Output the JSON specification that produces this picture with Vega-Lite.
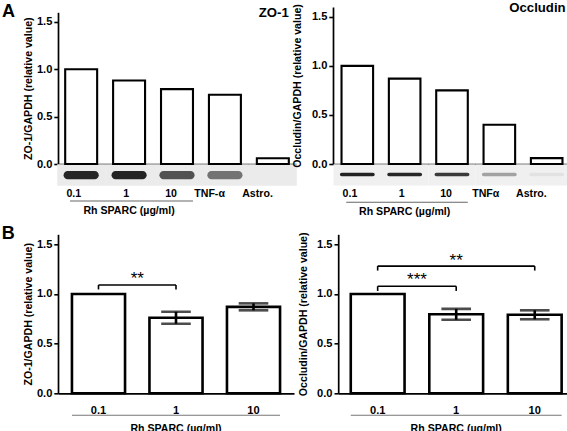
{
  "$schema": "https://vega.github.io/schema/vega-lite/v6.json",
  "background": "white",
  "padding": {"left": 1, "top": 0, "right": 0, "bottom": 0},
  "config": {
    "view": {"stroke": null},
    "font": "Liberation Sans",
    "axis": {
      "labelFont": "Liberation Sans", "labelFontWeight": "bold", "labelFontSize": 11.1, "labelColor": "black",
      "titleFont": "Liberation Sans", "titleFontWeight": "bold", "titleFontSize": 10.6, "titleColor": "black",
      "domainColor": "black", "domainWidth": 1.7, "tickColor": "black", "tickWidth": 1.6, "grid": false
    },
    "text": {"font": "Liberation Sans", "fontWeight": "bold", "color": "black"}
  },
  "datasets": {
    "a_zo1": [
      {"cat": "0.1", "v": 1.0, "blot": 0.9},
      {"cat": "1", "v": 0.88, "blot": 0.92},
      {"cat": "10", "v": 0.79, "blot": 0.7},
      {"cat": "TNF-α", "v": 0.73, "blot": 0.55},
      {"cat": "Astro.", "v": 0.06, "blot": 0.0}
    ],
    "a_occ": [
      {"cat": "0.1", "v": 1.0, "blot": 0.92},
      {"cat": "1", "v": 0.87, "blot": 0.9},
      {"cat": "10", "v": 0.75, "blot": 0.82},
      {"cat": "TNFα", "v": 0.40, "blot": 0.35},
      {"cat": "Astro.", "v": 0.06, "blot": 0.06}
    ],
    "b_zo1": [
      {"cat": "0.1", "v": 1.0},
      {"cat": "1", "v": 0.76, "lo": 0.70, "hi": 0.82},
      {"cat": "10", "v": 0.87, "lo": 0.835, "hi": 0.905}
    ],
    "b_occ": [
      {"cat": "0.1", "v": 1.0},
      {"cat": "1", "v": 0.795, "lo": 0.74, "hi": 0.85},
      {"cat": "10", "v": 0.79, "lo": 0.745, "hi": 0.835}
    ],
    "rh": [
      {"from": "0.1", "to": "10", "mid": "1", "label": "Rh SPARC (µg/ml)"}
    ],
    "name_zo1": [{"cat": "Astro.", "name": "ZO-1"}],
    "name_occ": [{"cat": "Astro.", "name": "Occludin"}],
    "letter_a": [{"cat": "0.1", "name": "A"}],
    "letter_b": [{"cat": "0.1", "name": "B"}],
    "sig_zo1": [
      {"from": "0.1", "to": "1", "at": "1", "pos": "gap", "y": 1.09, "tip": 1.045, "ty": 1.1, "label": "**"}
    ],
    "sig_occ": [
      {"from": "0.1", "to": "1", "at": "1", "pos": "gap", "y": 1.077, "tip": 1.03, "ty": 1.085, "label": "***"},
      {"from": "0.1", "to": "10", "at": "1", "pos": "band", "y": 1.28, "tip": 1.235, "ty": 1.285, "label": "**"}
    ]
  },
  "spacing": 6.3,
  "vconcat": [
    {
      "spacing": -5,
      "hconcat": [
        {
          "width": 238, "height": 157,
          "layer": [
            {
              "data": {"name": "a_zo1"},
              "mark": {"type": "bar", "color": "#ebebeb", "width": {"band": 1.5}},
              "encoding": {
                "x": {"field": "cat", "type": "nominal", "title": null},
                "y": {"datum": -0.003},
                "y2": {"datum": -0.23}
              }
            },
            {
              "data": {"name": "a_zo1"},
              "mark": {"type": "bar", "fill": "white", "stroke": "black", "strokeWidth": 2.1},
              "encoding": {
                "x": {"field": "cat", "type": "nominal",
                  "scale": {"domain": ["0.1", "1", "10", "TNF-α", "Astro."], "paddingInner": 0.333, "paddingOuter": 0.15},
                  "axis": {"title": null, "labelAngle": 0, "ticks": false, "tickSize": 0, "labelPadding": 29.6, "labelFontSize": 10.6}},
                "y": {"field": "v", "type": "quantitative",
                  "scale": {"domain": [0, 1.5], "range": [157, 5.3]},
                  "axis": {"values": [0, 0.5, 1, 1.5], "format": ".1f", "title": "ZO-1/GAPDH (relative value)", "tickSize": 4.2, "titlePadding": 3.2}}
              }
            },
            {
              "data": {"name": "a_zo1"},
              "mark": {"type": "bar", "fill": "#111111", "cornerRadius": 4.2, "width": {"band": 1.1}},
              "encoding": {
                "x": {"field": "cat", "type": "nominal", "title": null},
                "y": {"datum": -0.075},
                "y2": {"datum": -0.16},
                "opacity": {"field": "blot", "type": "quantitative", "scale": null}
              }
            },
            {
              "data": {"name": "rh"},
              "mark": {"type": "rule", "color": "#666666", "strokeWidth": 1.05},
              "encoding": {
                "x": {"field": "from", "type": "nominal", "bandPosition": 0.15, "title": null},
                "x2": {"field": "to", "bandPosition": 1},
                "y": {"datum": -0.39}
              }
            },
            {
              "data": {"name": "rh"},
              "mark": {"type": "text", "fontSize": 10.6, "baseline": "middle"},
              "encoding": {
                "x": {"field": "mid", "type": "nominal", "title": null},
                "y": {"datum": -0.5},
                "text": {"field": "label"}
              }
            },
            {
              "data": {"name": "name_zo1"},
              "mark": {"type": "text", "fontSize": 13.2, "align": "right", "baseline": "alphabetic"},
              "encoding": {
                "x": {"field": "cat", "type": "nominal", "bandPosition": 1, "title": null},
                "y": {"datum": 1.55},
                "text": {"field": "name"}
              }
            },
            {
              "data": {"name": "letter_a"},
              "mark": {"type": "text", "fontSize": 18, "align": "left", "baseline": "alphabetic"},
              "encoding": {
                "x": {"field": "cat", "type": "nominal", "bandPosition": -1.98, "title": null},
                "y": {"datum": 1.553},
                "text": {"field": "name"}
              }
            }
          ]
        },
        {
          "width": 238, "height": 157,
          "layer": [
            {
              "data": {"name": "a_occ"},
              "mark": {"type": "bar", "color": "#f0f0f0", "width": {"band": 1.5}},
              "encoding": {
                "x": {"field": "cat", "type": "nominal", "title": null},
                "y": {"datum": -0.003},
                "y2": {"datum": -0.22}
              }
            },
            {
              "data": {"name": "a_occ"},
              "mark": {"type": "bar", "fill": "white", "stroke": "black", "strokeWidth": 2.1},
              "encoding": {
                "x": {"field": "cat", "type": "nominal",
                  "scale": {"domain": ["0.1", "1", "10", "TNFα", "Astro."], "paddingInner": 0.333, "paddingOuter": 0.18},
                  "axis": {"title": null, "labelAngle": 0, "ticks": false, "tickSize": 0, "labelPadding": 29.6, "labelFontSize": 10.6}},
                "y": {"field": "v", "type": "quantitative",
                  "scale": {"domain": [0, 1.5]},
                  "axis": {"values": [0, 0.5, 1, 1.5], "format": ".1f", "title": "Occludin/GAPDH (relative value)", "tickSize": 4.2, "titlePadding": 8.5}}
              }
            },
            {
              "data": {"name": "a_occ"},
              "mark": {"type": "bar", "fill": "#111111", "cornerRadius": 2.1, "width": {"band": 1.1}},
              "encoding": {
                "x": {"field": "cat", "type": "nominal", "title": null},
                "y": {"datum": -0.09},
                "y2": {"datum": -0.125},
                "opacity": {"field": "blot", "type": "quantitative", "scale": null}
              }
            },
            {
              "data": {"name": "rh"},
              "mark": {"type": "rule", "color": "#666666", "strokeWidth": 1.05},
              "encoding": {
                "x": {"field": "from", "type": "nominal", "bandPosition": 0.15, "title": null},
                "x2": {"field": "to", "bandPosition": 1},
                "y": {"datum": -0.39}
              }
            },
            {
              "data": {"name": "rh"},
              "mark": {"type": "text", "fontSize": 10.6, "baseline": "middle"},
              "encoding": {
                "x": {"field": "mid", "type": "nominal", "title": null},
                "y": {"datum": -0.49},
                "text": {"field": "label"}
              }
            },
            {
              "data": {"name": "name_occ"},
              "mark": {"type": "text", "fontSize": 13.2, "align": "right", "baseline": "alphabetic"},
              "encoding": {
                "x": {"field": "cat", "type": "nominal", "bandPosition": 1.1, "title": null},
                "y": {"datum": 1.55},
                "text": {"field": "name"}
              }
            }
          ]
        }
      ]
    },
    {
      "spacing": 3.2,
      "hconcat": [
        {
          "width": 236, "height": 159,
          "layer": [
            {
              "data": {"name": "b_zo1"},
              "mark": {"type": "bar", "fill": "white", "stroke": "black", "strokeWidth": 2.6},
              "encoding": {
                "x": {"field": "cat", "type": "nominal",
                  "scale": {"domain": ["0.1", "1", "10"], "paddingInner": 0.315, "paddingOuter": 0.18},
                  "axis": {"title": null, "labelAngle": 0, "ticks": false, "tickSize": 0, "labelPadding": 11.6}},
                "y": {"field": "v", "type": "quantitative", "title": "ZO-1/GAPDH (relative value)",
                  "scale": {"domain": [0, 1.5]},
                  "axis": {"values": [0, 0.5, 1, 1.5], "format": ".1f", "tickSize": 4.2, "titlePadding": 3.2}}
              }
            },
            {
              "data": {"name": "b_zo1"},
              "transform": [{"filter": "datum.lo != null"}],
              "mark": {"type": "errorbar", "color": "black", "thickness": 2.6, "ticks": {"size": 29.6, "thickness": 2.6}},
              "encoding": {
                "x": {"field": "cat", "type": "nominal", "title": null},
                "y": {"field": "lo", "type": "quantitative", "title": "ZO-1/GAPDH (relative value)"},
                "y2": {"field": "hi"}
              }
            },
            {
              "data": {"name": "sig_zo1"},
              "mark": {"type": "rule", "color": "black", "strokeWidth": 1.6},
              "encoding": {
                "x": {"field": "from", "type": "nominal", "title": null},
                "x2": {"field": "to"},
                "y": {"field": "y", "type": "quantitative", "title": "ZO-1/GAPDH (relative value)"}
              }
            },
            {
              "data": {"name": "sig_zo1"},
              "mark": {"type": "rule", "color": "black", "strokeWidth": 1.6},
              "encoding": {
                "x": {"field": "from", "type": "nominal", "title": null},
                "y": {"field": "tip", "type": "quantitative", "title": "ZO-1/GAPDH (relative value)"},
                "y2": {"field": "y"}
              }
            },
            {
              "data": {"name": "sig_zo1"},
              "mark": {"type": "rule", "color": "black", "strokeWidth": 1.6},
              "encoding": {
                "x": {"field": "to", "type": "nominal", "title": null},
                "y": {"field": "tip", "type": "quantitative", "title": "ZO-1/GAPDH (relative value)"},
                "y2": {"field": "y"}
              }
            },
            {
              "data": {"name": "sig_zo1"},
              "mark": {"type": "text", "fontSize": 17, "fontWeight": "normal", "baseline": "alphabetic"},
              "encoding": {
                "x": {"field": "from", "type": "nominal", "bandPosition": 1.23, "title": null},
                "y": {"field": "ty", "type": "quantitative", "title": "ZO-1/GAPDH (relative value)"},
                "text": {"field": "label"}
              }
            },
            {
              "data": {"name": "rh"},
              "mark": {"type": "rule", "color": "#777777", "strokeWidth": 1.05},
              "encoding": {
                "x": {"field": "from", "type": "nominal", "bandPosition": 0, "title": null},
                "x2": {"field": "to", "bandPosition": 1},
                "y": {"datum": -0.22}
              }
            },
            {
              "data": {"name": "rh"},
              "mark": {"type": "text", "fontSize": 10.6, "baseline": "middle"},
              "encoding": {
                "x": {"field": "mid", "type": "nominal", "title": null},
                "y": {"datum": -0.36},
                "text": {"field": "label"}
              }
            },
            {
              "data": {"name": "letter_b"},
              "mark": {"type": "text", "fontSize": 18, "align": "left", "baseline": "alphabetic"},
              "encoding": {
                "x": {"field": "cat", "type": "nominal", "bandPosition": -1.32, "title": null},
                "y": {"datum": 1.55, "title": "ZO-1/GAPDH (relative value)"},
                "text": {"field": "name"}
              }
            }
          ]
        },
        {
          "width": 236, "height": 159,
          "layer": [
            {
              "data": {"name": "b_occ"},
              "mark": {"type": "bar", "fill": "white", "stroke": "black", "strokeWidth": 2.6},
              "encoding": {
                "x": {"field": "cat", "type": "nominal",
                  "scale": {"domain": ["0.1", "1", "10"], "paddingInner": 0.315, "paddingOuter": 0.16},
                  "axis": {"title": null, "labelAngle": 0, "ticks": false, "tickSize": 0, "labelPadding": 11.6}},
                "y": {"field": "v", "type": "quantitative", "title": "Occludin/GAPDH (relative value)",
                  "scale": {"domain": [0, 1.5]},
                  "axis": {"values": [0, 0.5, 1, 1.5], "format": ".1f", "tickSize": 4.2, "titlePadding": 8.5}}
              }
            },
            {
              "data": {"name": "b_occ"},
              "transform": [{"filter": "datum.lo != null"}],
              "mark": {"type": "errorbar", "color": "black", "thickness": 2.6, "ticks": {"size": 29.6, "thickness": 2.6}},
              "encoding": {
                "x": {"field": "cat", "type": "nominal", "title": null},
                "y": {"field": "lo", "type": "quantitative", "title": "Occludin/GAPDH (relative value)"},
                "y2": {"field": "hi"}
              }
            },
            {
              "data": {"name": "sig_occ"},
              "mark": {"type": "rule", "color": "black", "strokeWidth": 1.6},
              "encoding": {
                "x": {"field": "from", "type": "nominal", "title": null},
                "x2": {"field": "to"},
                "y": {"field": "y", "type": "quantitative", "title": "Occludin/GAPDH (relative value)"}
              }
            },
            {
              "data": {"name": "sig_occ"},
              "mark": {"type": "rule", "color": "black", "strokeWidth": 1.6},
              "encoding": {
                "x": {"field": "from", "type": "nominal", "title": null},
                "y": {"field": "tip", "type": "quantitative", "title": "Occludin/GAPDH (relative value)"},
                "y2": {"field": "y"}
              }
            },
            {
              "data": {"name": "sig_occ"},
              "mark": {"type": "rule", "color": "black", "strokeWidth": 1.6},
              "encoding": {
                "x": {"field": "to", "type": "nominal", "title": null},
                "y": {"field": "tip", "type": "quantitative", "title": "Occludin/GAPDH (relative value)"},
                "y2": {"field": "y"}
              }
            },
            {
              "data": {"name": "sig_occ"},
              "transform": [{"filter": "datum.pos == 'gap'"}],
              "mark": {"type": "text", "fontSize": 17, "fontWeight": "normal", "baseline": "alphabetic"},
              "encoding": {
                "x": {"field": "from", "type": "nominal", "bandPosition": 1.23, "title": null},
                "y": {"field": "ty", "type": "quantitative", "title": "Occludin/GAPDH (relative value)"},
                "text": {"field": "label"}
              }
            },
            {
              "data": {"name": "sig_occ"},
              "transform": [{"filter": "datum.pos == 'band'"}],
              "mark": {"type": "text", "fontSize": 17, "fontWeight": "normal", "baseline": "alphabetic"},
              "encoding": {
                "x": {"field": "at", "type": "nominal", "title": null},
                "y": {"field": "ty", "type": "quantitative", "title": "Occludin/GAPDH (relative value)"},
                "text": {"field": "label"}
              }
            },
            {
              "data": {"name": "rh"},
              "mark": {"type": "rule", "color": "#777777", "strokeWidth": 1.05},
              "encoding": {
                "x": {"field": "from", "type": "nominal", "bandPosition": 0, "title": null},
                "x2": {"field": "to", "bandPosition": 1},
                "y": {"datum": -0.22}
              }
            },
            {
              "data": {"name": "rh"},
              "mark": {"type": "text", "fontSize": 10.6, "baseline": "middle"},
              "encoding": {
                "x": {"field": "mid", "type": "nominal", "title": null},
                "y": {"datum": -0.36},
                "text": {"field": "label"}
              }
            }
          ]
        }
      ]
    }
  ]
}
